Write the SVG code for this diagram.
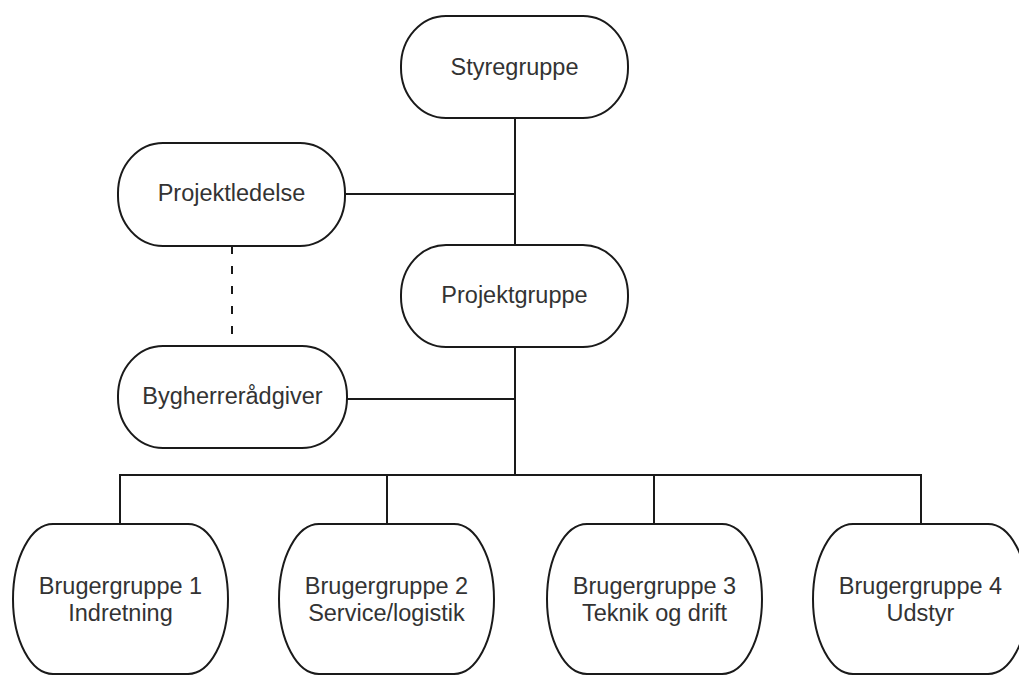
<svg xmlns="http://www.w3.org/2000/svg" width="1019" height="675" viewBox="0 0 1019 675">
<style>
.node{fill:#fff;stroke:#1a1a1a;stroke-width:2}
.lbl{font-family:"Liberation Sans",Arial,sans-serif;font-size:23.5px;fill:#333;text-anchor:middle}
.edge{fill:none;stroke:#1a1a1a;stroke-width:2}
.dash{fill:none;stroke:#1a1a1a;stroke-width:2;stroke-dasharray:8 12}
</style>
<rect width="1019" height="675" fill="#fff"/>
<g id="connectors">
<path class="edge" d="M515 118V245"/>
<path class="edge" d="M345 194H515"/>
<path class="dash" d="M232 246V346"/>
<path class="edge" d="M347 399H515"/>
<path class="edge" d="M515 347V475"/>
<path class="edge" d="M120 524V475H921V524"/>
<path class="edge" d="M387 475V524"/>
<path class="edge" d="M654 475V524"/>
</g>
<g id="styregruppe">
<rect class="node" x="401" y="16" width="227" height="102" rx="45" ry="50"/>
<text class="lbl" x="514.5" y="75">Styregruppe</text>
</g>
<g id="projektledelse">
<rect class="node" x="118" y="143" width="227" height="103" rx="45" ry="50"/>
<text class="lbl" x="231.5" y="201">Projektledelse</text>
</g>
<g id="projektgruppe">
<rect class="node" x="401" y="245" width="227" height="102" rx="45" ry="50"/>
<text class="lbl" x="514.5" y="303">Projektgruppe</text>
</g>
<g id="bygherreraadgiver">
<rect class="node" x="118" y="346" width="229" height="102" rx="45" ry="50"/>
<text class="lbl" x="232.5" y="404">Bygherrerådgiver</text>
</g>
<g id="brugergruppe1">
<rect class="node" x="13" y="524" width="215" height="150" rx="40" ry="75"/>
<text class="lbl" x="120.5" y="594">Brugergruppe 1</text>
<text class="lbl" x="120.5" y="621">Indretning</text>
</g>
<g id="brugergruppe2">
<rect class="node" x="279" y="524" width="215" height="150" rx="40" ry="75"/>
<text class="lbl" x="386.5" y="594">Brugergruppe 2</text>
<text class="lbl" x="386.5" y="621">Service/logistik</text>
</g>
<g id="brugergruppe3">
<rect class="node" x="547" y="524" width="215" height="150" rx="40" ry="75"/>
<text class="lbl" x="654.5" y="594">Brugergruppe 3</text>
<text class="lbl" x="654.5" y="621">Teknik og drift</text>
</g>
<g id="brugergruppe4">
<rect class="node" x="813" y="524" width="215" height="150" rx="40" ry="75"/>
<text class="lbl" x="920.5" y="594">Brugergruppe 4</text>
<text class="lbl" x="920.5" y="621">Udstyr</text>
</g>
</svg>
